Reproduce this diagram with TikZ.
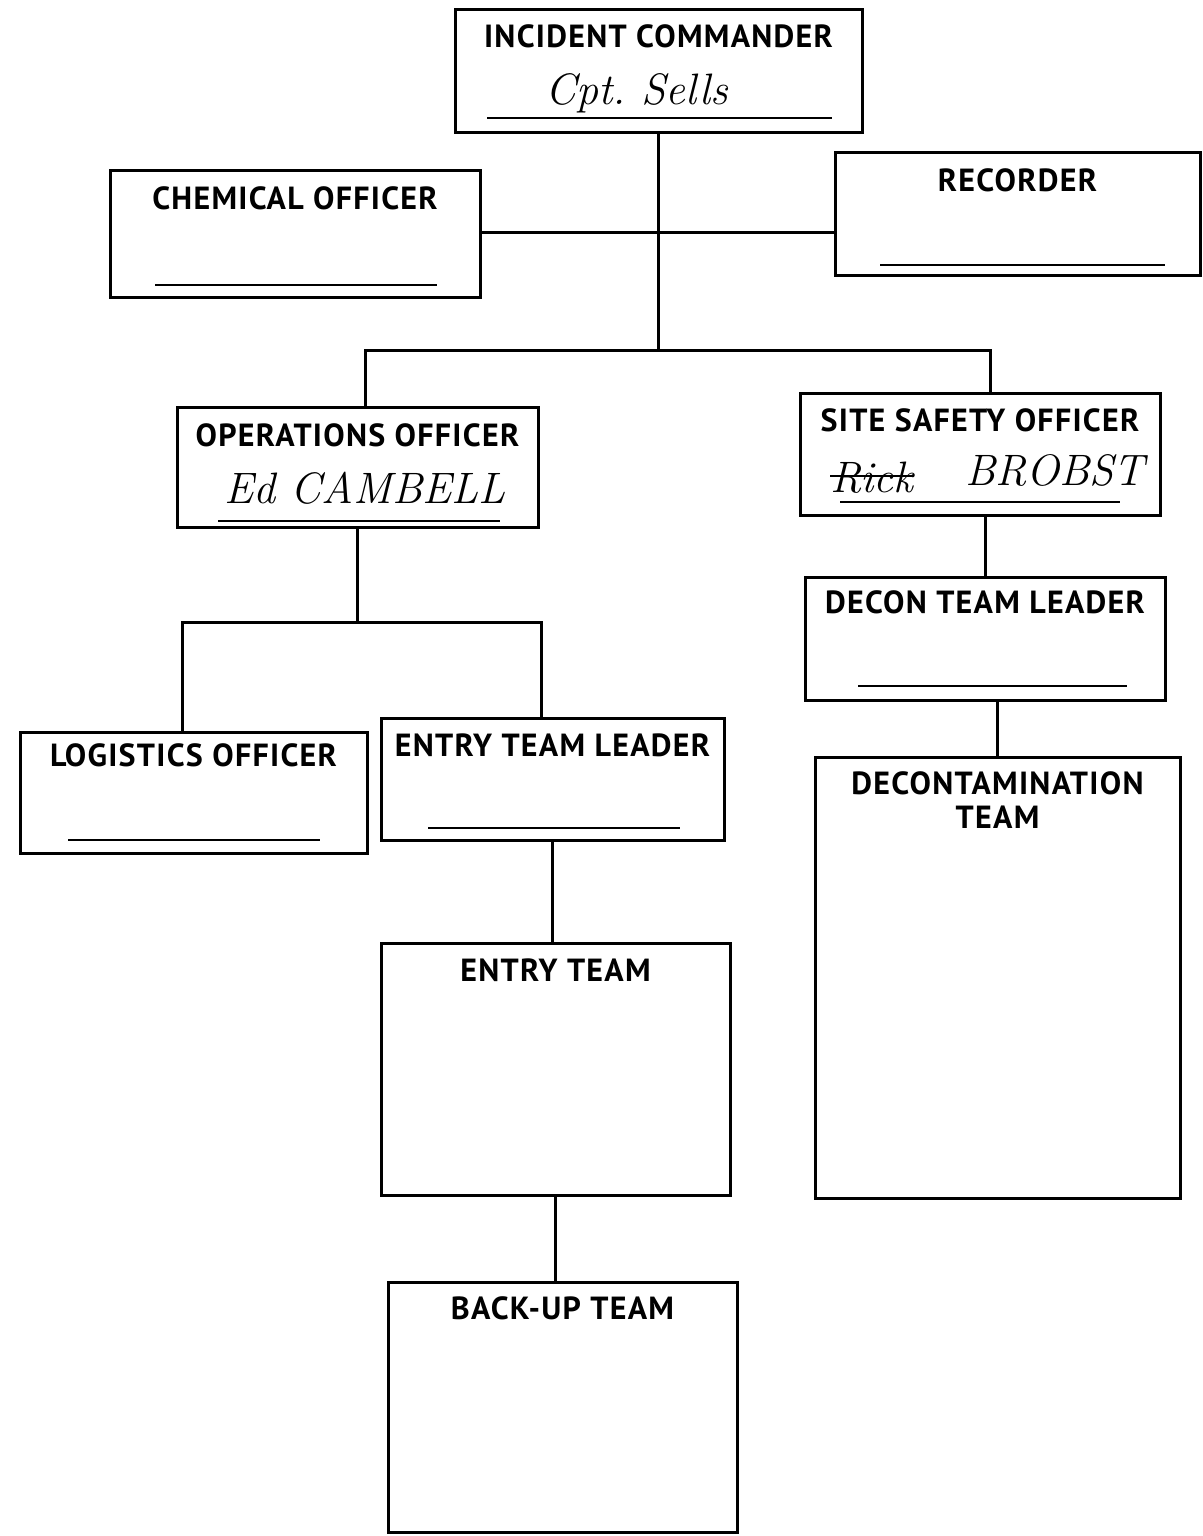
\documentclass[tikz,border=0pt]{standalone}
\usepackage{fontspec}
\setsansfont[LetterSpace=4]{PT Sans}
\usetikzlibrary{calc}
\begin{document}
\begin{tikzpicture}[x=0.5pt,y=-0.5pt,
  box/.style={draw, line width=1.5pt, anchor=north west, inner sep=0pt, outer sep=0pt},
  lbl/.style={font=\sffamily\bfseries\fontsize{16}{17}\selectfont, align=center, inner sep=0pt},
  hand/.style={font=\rmfamily\itshape\fontsize{22}{24}\selectfont, inner sep=0pt},
  uline/.style={line width=1pt},
  conn/.style={line width=1.5pt}]
\useasboundingbox (0,0) rectangle (1203,1536);
\fill[white] (0,0) rectangle (1203,1536);

% boxes
\node[box, minimum width=203.5pt, minimum height=61.5pt] (ic) at (455,10) {};
\node[box, minimum width=185pt, minimum height=63.5pt] (chem) at (110,170) {};
\node[box, minimum width=182.5pt, minimum height=61.5pt] (rec) at (835,152) {};
\node[box, minimum width=180.5pt, minimum height=60pt] (ops) at (177,407) {};
\node[box, minimum width=180pt, minimum height=61pt] (ssafe) at (800,393) {};
\node[box, minimum width=180pt, minimum height=61.5pt] (dtl) at (805,577) {};
\node[box, minimum width=182.5pt, minimum height=220.5pt] (dt) at (815,757) {};
\node[box, minimum width=173.5pt, minimum height=60.5pt] (log) at (20,732) {};
\node[box, minimum width=171.5pt, minimum height=61pt] (etl) at (381,718) {};
\node[box, minimum width=174.5pt, minimum height=126pt] (et) at (381,943) {};
\node[box, minimum width=174.5pt, minimum height=125pt] (bu) at (388,1282) {};

% titles
\node[lbl] (icT) at ([yshift=-13pt]ic.north) {INCIDENT COMMANDER};
\node[lbl] (chemT) at ([yshift=-14pt]chem.north) {CHEMICAL OFFICER};
\node[lbl] (recT) at ([yshift=-14pt]rec.north) {RECORDER};
\node[lbl] (opsT) at ([yshift=-14pt]ops.north) {OPERATIONS OFFICER};
\node[lbl] (ssafeT) at ([yshift=-13.5pt]ssafe.north) {SITE SAFETY OFFICER};
\node[lbl] (dtlT) at ([yshift=-12.5pt]dtl.north) {DECON TEAM LEADER};
\node[lbl] (dtT) at ([yshift=-21.5pt]dt.north) {DECONTAMINATION\\TEAM};
\node[lbl] (logT) at ([yshift=-11.5pt]log.north) {LOGISTICS OFFICER};
\node[lbl] (etlT) at ([yshift=-13.5pt]etl.north) {ENTRY TEAM LEADER};
\node[lbl] (etT) at ([yshift=-13.5pt]et.north) {ENTRY TEAM};
\node[lbl] (buT) at ([yshift=-13pt]bu.north) {BACK-UP TEAM};

% underlines
\draw[uline] ([xshift=16pt,yshift=7.5pt]ic.south west) -- ([xshift=-15pt,yshift=7.5pt]ic.south east);
\draw[uline] ([xshift=22.5pt,yshift=6pt]chem.south west) -- ([xshift=-21.5pt,yshift=6pt]chem.south east);
\draw[uline] ([xshift=22.5pt,yshift=5pt]rec.south west) -- ([xshift=-17.5pt,yshift=5pt]rec.south east);
\draw[uline] ([xshift=20.5pt,yshift=3pt]ops.south west) -- ([xshift=-19pt,yshift=3pt]ops.south east);
\draw[uline] ([xshift=20pt,yshift=6.5pt]ssafe.south west) -- ([xshift=-20pt,yshift=6.5pt]ssafe.south east);
\draw[uline] ([xshift=26.5pt,yshift=7pt]dtl.south west) -- ([xshift=-19pt,yshift=7pt]dtl.south east);
\draw[uline] ([xshift=24pt,yshift=6.5pt]log.south west) -- ([xshift=-23.5pt,yshift=6.5pt]log.south east);
\draw[uline] ([xshift=23.5pt,yshift=6pt]etl.south west) -- ([xshift=-22pt,yshift=6pt]etl.south east);

% handwritten names
\node[hand] (icN) at (637,93) {Cpt.\ Sells};
\node[hand] (opsN) at (365,488) {Ed CAMBELL};
\node[hand] (rick) at (872,478) {Rick};
\draw[uline] ([yshift=1pt]rick.west) -- ([yshift=1pt]rick.east);
\node[hand] (brobst) at (1055,470) {BROBST};

% connectors
\coordinate (jTop) at (658,232);
\coordinate (jBL) at (365,350);
\coordinate (jBR) at (990,350);
\coordinate (jOps) at (360,622);
\coordinate (jL) at (182,622);
\coordinate (jR) at (541,622);
\draw[conn] (ic.south) -- (ic.south |- jBL);
\draw[conn] (chem.east |- jTop) -- (rec.west |- jTop);
\draw[conn] (ops.north -| jBL) -- (jBL) -- (jBR) -- (ssafe.north -| jBR);
\draw[conn] (ops.south) -- (ops.south |- jOps);
\draw[conn] (log.north -| jL) -- (jL) -- (jR) -- (etl.north -| jR);
\draw[conn] (etl.south) -- (et.north -| etl.south);
\draw[conn] (et.south) -- (bu.north -| et.south);
\draw[conn] (ssafe.south -| dtl.north) -- (dtl.north);
\draw[conn] (dtl.south -| dt.north) -- (dt.north);
\end{tikzpicture}
\end{document}
